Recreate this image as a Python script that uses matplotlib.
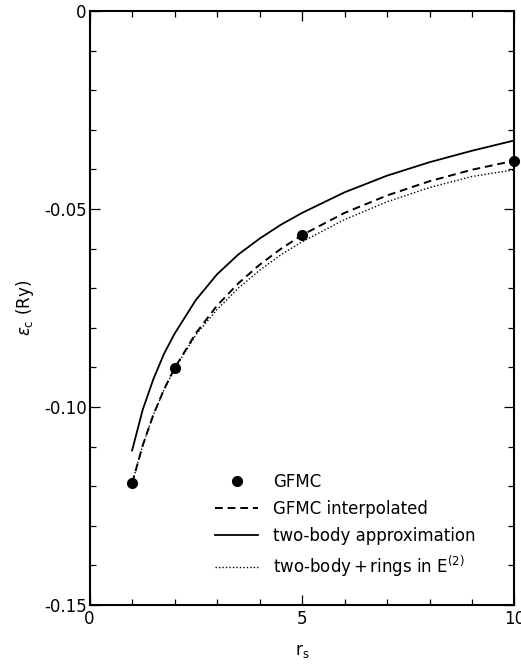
import numpy as np
import matplotlib
matplotlib.use('Agg')
import matplotlib.pyplot as plt
from matplotlib.ticker import MultipleLocator, FuncFormatter

# GFMC points (Ry)
gfmc_rs = [1, 2, 5, 10]
gfmc_ec = [-0.1193, -0.0902, -0.0565, -0.0380]

# curves
rs = [1, 1.25, 1.5, 1.75, 2, 2.5, 3, 3.5, 4, 4.5, 5, 6, 7, 8, 9, 10]
ec_interp = [-0.1193, -0.1097, -0.1020, -0.0956, -0.0902, -0.0814,
             -0.0744, -0.0688, -0.0641, -0.0601, -0.0566,
             -0.0510, -0.0466, -0.0430, -0.0401, -0.0378]
ec_twobody = [-0.1110, -0.1007, -0.0930, -0.0866, -0.0815, -0.0730,
              -0.0665, -0.0615, -0.0575, -0.0540, -0.0510,
              -0.0458, -0.0416, -0.0382, -0.0353, -0.0327]
ec_rings = [-0.1193, -0.1097, -0.1020, -0.0957, -0.0904, -0.0818,
            -0.0754, -0.0700, -0.0655, -0.0616, -0.0583,
            -0.0527, -0.0482, -0.0446, -0.0418, -0.0401]

fig = plt.figure(figsize=(5.21, 6.64), dpi=100)
ax = fig.add_axes([0.172, 0.089, 0.8155, 0.8945])

ax.plot(rs, ec_interp, color='black', ls=(0, (4, 2.5)), lw=1.4,
        label='GFMC interpolated')
ax.plot(rs, ec_twobody, color='black', ls='-', lw=1.3,
        label='two-body approximation')
ax.plot(rs, ec_rings, color='black', ls=(0, (1, 1.5)), lw=1.0,
        label=r'two-body$\,$+$\,$rings in E$^{(2)}$')
ax.plot(gfmc_rs, gfmc_ec, 'o', color='black', ms=7, label='GFMC',
        clip_on=False, zorder=5)

ax.set_xlim(0, 10)
ax.set_ylim(-0.15, 0)
ax.xaxis.set_major_locator(MultipleLocator(5))
ax.xaxis.set_minor_locator(MultipleLocator(1))
ax.yaxis.set_major_locator(MultipleLocator(0.05))
ax.yaxis.set_minor_locator(MultipleLocator(0.01))
ax.yaxis.set_major_formatter(FuncFormatter(
    lambda v, p: '0' if abs(v) < 1e-9 else '-%.2f' % abs(v)))
ax.xaxis.set_major_formatter(FuncFormatter(lambda v, p: '%d' % v))

ax.tick_params(which='both', direction='in', top=True, right=True,
               labelsize=12, width=0.9)
ax.tick_params(which='major', length=7, pad=2)
ax.tick_params(axis='x', which='major', pad=4)
ax.tick_params(which='minor', length=4)
for s in ax.spines.values():
    s.set_linewidth(1.5)

ax.set_xlabel(r'r$_\mathregular{s}$', fontsize=12, labelpad=10)
ax.set_ylabel(r'$\epsilon_\mathregular{c}$ (Ry)', fontsize=12, labelpad=6)

handles, labels = ax.get_legend_handles_labels()
order = [3, 0, 1, 2]
ax.legend([handles[i] for i in order], [labels[i] for i in order],
          loc='lower left', bbox_to_anchor=(0.26, 0.018), frameon=False,
          fontsize=12, handlelength=2.6, handletextpad=0.9,
          labelspacing=0.55)

fig.savefig('out.png', dpi=100)
